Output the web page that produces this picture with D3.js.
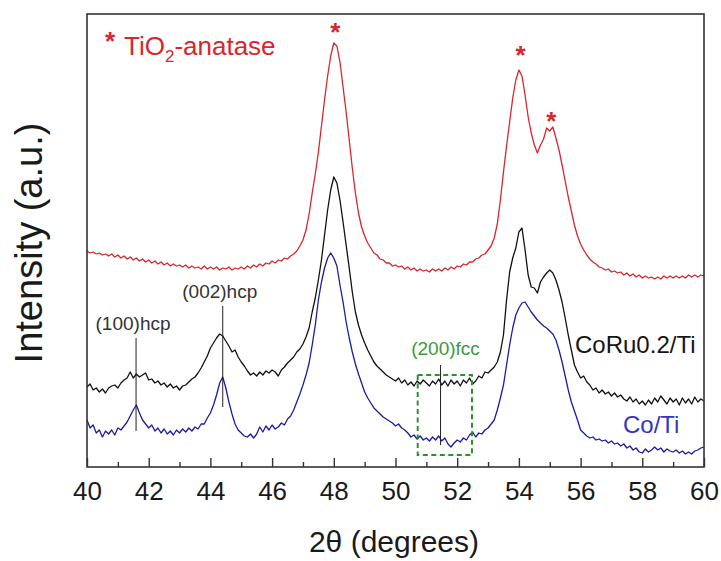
<!DOCTYPE html>
<html>
<head>
<meta charset="utf-8">
<script src="https://cdn.jsdelivr.net/npm/d3@7"></script>
<style>
  html, body { margin: 0; padding: 0; background: #fff; }
  svg { display: block; font-family: Arial, "Liberation Sans", Helvetica, sans-serif; }
</style>
</head>
<body>
<svg id="chart" width="721" height="561"></svg>
<script>
// ---------------- DATA ----------------
// 2θ sampling grid (degrees), 40.0 ... 60.0 in 0.1° steps
const twoTheta = d3.range(0, 201).map(i => +(40 + i * 0.1).toFixed(1));

// Intensities (a.u.), one value per 0.1°
const tio2Anatase = [
  216,214,215,213,214,212,213,211,213,210,
  212,209,211,208,210,207,209,206,208,205,
  207,204,206,203,205,202,204,201,203,201,
  202,200,202,199,201,199,200,198,201,198,
  200,198,200,197,199,198,200,197,199,198,
  200,198,201,199,202,200,203,201,204,203,
  206,204,207,206,209,208,211,213,216,221,
  227,237,253,274,293,315,341,367,391,411,
  424,421,405,380,355,327,299,274,254,240,
  231,224,219,214,212,208,207,204,204,201,
  202,200,201,198,200,197,199,196,198,196,
  197,195,198,196,198,196,199,197,200,198,
  201,200,203,202,205,205,208,209,212,213,
  217,221,229,243,267,295,321,345,369,387,
  397,391,372,350,334,322,314,322,328,339,
  336,340,329,317,302,286,270,256,242,231,
  223,217,212,208,205,203,200,199,197,198,
  195,196,194,195,192,194,191,193,190,192,
  189,191,189,190,188,190,188,191,189,191,
  189,191,189,191,189,192,190,192,190,192,
  191
];

const coRuTi = [
  80,83,77,79,75,78,74,79,81,82,
  79,84,87,89,95,89,93,90,92,94,
  87,88,84,86,82,84,80,83,79,81,
  77,81,82,85,88,90,94,99,105,111,
  119,124,129,133,131,126,121,115,117,110,
  105,101,96,92,94,91,95,92,96,94,
  97,95,91,97,100,104,107,110,115,118,
  123,130,139,155,169,187,207,232,257,277,
  290,284,267,245,222,199,175,155,142,132,
  124,117,111,105,101,98,95,92,90,88,
  86,89,84,87,82,85,81,86,83,87,
  84,81,86,83,88,82,86,81,87,83,
  86,81,87,84,89,83,86,91,89,95,
  94,97,100,105,115,132,167,195,209,219,
  235,239,217,192,180,179,174,185,190,194,
  197,194,187,177,165,149,132,117,102,95,
  89,91,85,82,77,79,74,77,73,75,
  71,74,70,72,68,66,70,65,68,63,
  66,62,67,63,69,65,71,67,63,69,
  65,68,62,69,64,68,63,70,65,68,
  66
];

const coTi = [
  47,39,42,34,37,30,36,33,37,32,
  39,37,41,45,51,57,62,54,47,43,
  39,42,36,39,34,38,33,36,32,37,
  34,38,35,39,36,40,38,43,43,49,
  54,62,72,84,90,79,65,53,43,37,
  34,31,30,33,29,33,40,35,41,37,
  42,38,40,44,42,48,51,57,65,73,
  82,92,104,122,142,167,185,199,209,214,
  209,201,182,165,145,129,115,103,93,84,
  75,69,64,59,56,53,50,48,46,44,
  41,43,39,37,34,30,32,28,31,27,
  29,26,30,27,31,26,29,23,20,24,
  27,25,29,27,32,35,30,34,33,37,
  39,43,47,57,69,82,102,122,139,152,
  159,164,165,160,155,151,147,144,141,139,
  136,133,127,117,105,91,77,65,56,47,
  37,34,31,29,30,27,28,26,27,24,
  26,23,24,21,23,19,21,17,19,15,
  14,18,15,17,20,17,19,15,18,16,
  15,17,14,16,13,15,13,16,17,19,
  20
];

const majorTicks = [40, 42, 44, 46, 48, 50, 52, 54, 56, 58, 60];
const minorTicks = [41, 43, 45, 47, 49, 51, 53, 55, 57, 59];

// reflections marked on the picture
const anatasePeaks = [
  { theta: 48.05, intensity: 441 },
  { theta: 54.05, intensity: 418 },
  { theta: 55.05, intensity: 352 }
];
const hcpMarks = [
  { label: "(100)hcp", theta: 41.59, top: 129, bottom: 36 },
  { label: "(002)hcp", theta: 44.4, top: 161, bottom: 60 }
];
const fccMark = { label: "(200)fcc", theta: 51.46, top: 102, bottom: 22 };
const fccBox = { x0: 50.72, x1: 52.48, y0: 92, y1: 12 };

// ---------------- CHART ----------------
const svg = d3.select("#chart");
const L = 87, R = 704, T = 14, B = 467;

const x = d3.scaleLinear().domain([40, 60]).range([L, R]);
const y = d3.scaleLinear().domain([0, 453]).range([B, T]);

const line = d3.line()
  .x((d, i) => x(twoTheta[i]))
  .y(d => y(d));

const series = [
  { values: coTi, color: "#1c1ca0" },
  { values: coRuTi, color: "#111111" },
  { values: tio2Anatase, color: "#d8262c" }
];

const plot = svg.append("g");
series.forEach(s => {
  plot.append("path")
    .datum(s.values)
    .attr("fill", "none")
    .attr("stroke", s.color)
    .attr("stroke-width", 1.3)
    .attr("stroke-linejoin", "round")
    .attr("d", line);
});

// frame
svg.append("rect")
  .attr("x", L).attr("y", T)
  .attr("width", R - L).attr("height", B - T)
  .attr("fill", "none").attr("stroke", "#333").attr("stroke-width", 1.6);

// bottom axis (inward ticks)
const axisG = svg.append("g").attr("transform", `translate(0,${B})`)
  .call(d3.axisBottom(x).tickValues(majorTicks).tickFormat(d3.format("d"))
    .tickSizeInner(-9).tickSizeOuter(0).tickPadding(15));
axisG.select(".domain").remove();
axisG.selectAll(".tick line").attr("stroke", "#333").attr("stroke-width", 1.4);
axisG.selectAll(".tick text")
  .attr("font-size", 26).attr("fill", "#1a1a1a")
  .style("font-family", "Arial, 'Liberation Sans', sans-serif");

const minorG = svg.append("g").attr("transform", `translate(0,${B})`)
  .call(d3.axisBottom(x).tickValues(minorTicks).tickFormat("")
    .tickSizeInner(-5).tickSizeOuter(0));
minorG.select(".domain").remove();
minorG.selectAll(".tick line").attr("stroke", "#333").attr("stroke-width", 1.4);

// axis titles
svg.append("text")
  .attr("x", 394).attr("y", 552)
  .attr("text-anchor", "middle")
  .attr("font-size", 30).attr("fill", "#1a1a1a")
  .text("2θ (degrees)");

svg.append("text")
  .attr("transform", "translate(42,243) rotate(-90)")
  .attr("text-anchor", "middle")
  .attr("font-size", 38).attr("fill", "#1a1a1a")
  .text("Intensity (a.u.)");

// anatase stars
svg.selectAll(".star").data(anatasePeaks).enter().append("text")
  .attr("class", "star")
  .attr("x", d => x(d.theta))
  .attr("y", d => y(d.intensity) + 15)
  .attr("text-anchor", "middle")
  .attr("font-size", 26).attr("font-weight", "bold").attr("fill", "#d8262c")
  .text("*");

// legend for anatase
svg.append("text")
  .attr("x", 110).attr("y", 50)
  .attr("text-anchor", "middle")
  .attr("font-size", 26).attr("font-weight", "bold").attr("fill", "#d8262c")
  .text("*");
const tio = svg.append("text")
  .attr("x", 124).attr("y", 55)
  .attr("font-size", 26).attr("fill", "#d8262c");
tio.append("tspan").text("TiO");
tio.append("tspan").attr("font-size", 17).attr("dy", 7).text("2");
tio.append("tspan").attr("dy", -7).text("-anatase");

// hcp markers
hcpMarks.forEach(m => {
  svg.append("line")
    .attr("x1", x(m.theta)).attr("x2", x(m.theta))
    .attr("y1", y(m.top)).attr("y2", y(m.bottom))
    .attr("stroke", "#222").attr("stroke-width", 1);
  svg.append("text")
    .attr("x", x(m.theta) - 3).attr("y", y(m.top) - 8)
    .attr("text-anchor", "middle")
    .attr("font-size", 19).attr("fill", "#333")
    .text(m.label);
});

// fcc marker + box
svg.append("rect")
  .attr("x", x(fccBox.x0)).attr("y", y(fccBox.y0))
  .attr("width", x(fccBox.x1) - x(fccBox.x0))
  .attr("height", y(fccBox.y1) - y(fccBox.y0))
  .attr("fill", "none").attr("stroke", "#2f8f2f")
  .attr("stroke-width", 2).attr("stroke-dasharray", "5,3.5");
svg.append("line")
  .attr("x1", x(fccMark.theta)).attr("x2", x(fccMark.theta))
  .attr("y1", y(fccMark.top)).attr("y2", y(fccMark.bottom))
  .attr("stroke", "#222").attr("stroke-width", 1);
svg.append("text")
  .attr("x", x(fccMark.theta) + 5).attr("y", 355)
  .attr("text-anchor", "middle")
  .attr("font-size", 19).attr("fill", "#3a9a3a")
  .text(fccMark.label);

// series labels
svg.append("text")
  .attr("x", 575).attr("y", 353)
  .attr("font-size", 24).attr("fill", "#151515")
  .text("CoRu0.2/Ti");
svg.append("text")
  .attr("x", 623).attr("y", 433)
  .attr("font-size", 24).attr("fill", "#3535c0")
  .text("Co/Ti");
</script>
</body>
</html>
